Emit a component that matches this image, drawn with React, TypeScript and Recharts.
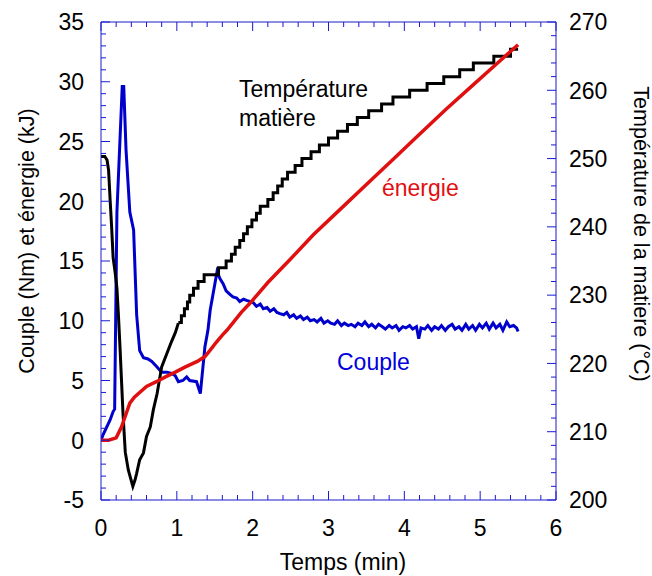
import React from "react"
import { LineChart, Line, XAxis, YAxis } from "recharts"

// Temps (min) / valeurs
const couple: [number, number][] = [
  [0, 0], [0.03, 0.5], [0.06, 0.9], [0.12, 1.7], [0.16, 2.4], [0.18, 2.6],
  [0.21, 19.1], [0.28, 29.6], [0.3, 29.6], [0.33, 24.3], [0.38, 19.1], [0.43, 17.6],
  [0.47, 10.5], [0.51, 7.5], [0.56, 6.9], [0.62, 6.8], [0.67, 6.6], [0.73, 6.2],
  [0.8, 5.7], [0.87, 5.7], [0.93, 5.6], [0.98, 5.4], [1.02, 4.9], [1.08, 5.0],
  [1.13, 5.3], [1.17, 5.0], [1.26, 4.9], [1.31, 3.9], [1.37, 7.8], [1.41, 9.2],
  [1.44, 10.9], [1.53, 14.1], [1.57, 13.5], [1.61, 13.1], [1.65, 12.5], [1.7, 12.2],
  [1.74, 12.0], [1.79, 11.9], [1.83, 11.6], [1.88, 11.8], [1.92, 11.7], [1.97, 11.6],
  [2.01, 11.5], [2.05, 11.2], [2.1, 11.4], [2.14, 11.0], [2.19, 11.1], [2.23, 10.8],
  [2.28, 11.0], [2.32, 10.7], [2.36, 10.6], [2.41, 10.5], [2.45, 10.7], [2.49, 10.3],
  [2.54, 10.5], [2.58, 10.2], [2.63, 10.4], [2.67, 10.1], [2.72, 10.3], [2.76, 10.0],
  [2.81, 10.1], [2.85, 9.9], [2.9, 10.2], [2.94, 9.8], [2.99, 10.0], [3.03, 9.8],
  [3.08, 9.7], [3.12, 10.0], [3.17, 9.6], [3.21, 9.8], [3.26, 9.6], [3.3, 9.7],
  [3.35, 9.5], [3.39, 9.8], [3.44, 9.6], [3.48, 9.9], [3.53, 9.5], [3.57, 9.7],
  [3.62, 9.4], [3.66, 9.7], [3.71, 9.5], [3.75, 9.3], [3.8, 9.6], [3.84, 9.4],
  [3.89, 9.6], [3.93, 9.2], [3.98, 9.5], [4.02, 9.4], [4.07, 9.6], [4.11, 9.3],
  [4.16, 9.5], [4.19, 8.5], [4.22, 9.4], [4.27, 9.3], [4.31, 9.6], [4.36, 9.2],
  [4.4, 9.5], [4.45, 9.3], [4.49, 9.6], [4.54, 9.2], [4.58, 9.5], [4.63, 9.7],
  [4.67, 9.3], [4.72, 9.5], [4.76, 9.2], [4.81, 9.7], [4.85, 9.3], [4.9, 9.6],
  [4.94, 9.2], [4.99, 9.7], [5.03, 9.4], [5.08, 9.8], [5.12, 9.3], [5.17, 9.8],
  [5.21, 9.4], [5.26, 9.7], [5.3, 9.2], [5.35, 9.9], [5.39, 9.5], [5.44, 9.6],
  [5.48, 9.4], [5.5, 9.1],
]

const energie: [number, number][] = [
  [0, 0], [0.1, 0], [0.2, 0.2], [0.27, 1.1], [0.33, 2.2], [0.38, 3.1], [0.44, 3.6],
  [0.51, 4.0], [0.6, 4.5], [0.73, 4.9], [0.85, 5.3], [0.98, 5.7], [1.1, 6.1],
  [1.17, 6.3], [1.27, 6.6], [1.37, 7.0], [1.44, 7.55], [1.52, 8.2], [1.6, 8.8],
  [1.66, 9.2], [1.75, 9.9], [1.85, 10.7], [1.97, 11.5], [2.2, 13.2], [2.49, 15.1],
  [2.8, 17.2], [3.15, 19.3], [3.5, 21.4], [3.85, 23.5], [4.2, 25.6], [4.55, 27.7],
  [4.9, 29.7], [5.2, 31.4], [5.5, 33.1],
]

// température matière : chute initiale puis montée par paliers
const tempChute: [number, number][] = [
  [0, 250.3], [0.05, 250.3], [0.08, 249.8], [0.1, 248.3], [0.12, 244.0], [0.14, 240.0],
  [0.16, 235.5], [0.19, 233.0], [0.21, 231.0], [0.23, 227.0], [0.25, 222.5],
  [0.27, 217.6], [0.29, 212.7], [0.32, 207.0], [0.36, 204.4], [0.42, 202.0],
  [0.45, 203.0], [0.47, 203.9], [0.51, 205.9], [0.56, 206.9], [0.6, 209.3],
  [0.65, 210.7], [0.69, 213.2], [0.74, 215.6], [0.8, 219.5], [0.87, 221.5],
  [0.93, 223.2], [0.98, 224.5], [1.02, 225.9],
]

const tempPaliers: [number, number][] = [
  [1.02, 226], [1.06, 227], [1.1, 228], [1.14, 229], [1.17, 230], [1.22, 231],
  [1.28, 232], [1.36, 233], [1.55, 234], [1.65, 235], [1.72, 236], [1.77, 237],
  [1.83, 238], [1.88, 239], [1.93, 240], [1.99, 241], [2.05, 242], [2.1, 243],
  [2.2, 244], [2.27, 245], [2.33, 246], [2.39, 247], [2.46, 248], [2.56, 249],
  [2.65, 250], [2.77, 251], [2.88, 252], [3.0, 253], [3.12, 254], [3.25, 255],
  [3.38, 256], [3.53, 257], [3.7, 258], [3.85, 259], [4.07, 260], [4.3, 261],
  [4.52, 262], [4.73, 263], [4.91, 264], [5.18, 265], [5.4, 266], [5.5, 266],
]

const xLabels = [0, 1, 2, 3, 4, 5, 6]
const leftLabels = [-5, 0, 5, 10, 15, 20, 25, 30, 35]
const rightLabels = [200, 210, 220, 230, 240, 250, 260, 270]

const xTicks = Array.from({ length: 31 }, (_, i) => (i * 2) / 10)
const leftTicks = Array.from({ length: 41 }, (_, i) => i - 5)
const rightTicks = Array.from({ length: 36 }, (_, i) => 200 + i * 2)

const toRows = (pts: [number, number][]) => pts.map(([t, v]) => ({ t, v }))

const AXIS = "#1a1ad0"
const FONT = "'Liberation Sans', Arial, sans-serif"
const isMajorX = (v: number) => xLabels.some((m) => Math.abs(m - v) < 1e-6)

function BottomTick(props: any) {
  const { x, y, payload } = props
  const major = isMajorX(payload.value)
  return (
    <g>
      <line x1={x} x2={x} y1={y} y2={y - (major ? 9 : 5)} stroke={AXIS} strokeWidth={1} />
      {major && (
        <text x={x} y={y + 36} textAnchor="middle" fontSize={23} fontFamily={FONT} fill="#000">
          {Math.round(payload.value)}
        </text>
      )}
    </g>
  )
}

function TopTick(props: any) {
  const { x, y, payload } = props
  const major = isMajorX(payload.value)
  return <line x1={x} x2={x} y1={y} y2={y + (major ? 9 : 5)} stroke={AXIS} strokeWidth={1} />
}

function LeftTick(props: any) {
  const { x, y, payload } = props
  const major = leftLabels.includes(payload.value)
  return (
    <g>
      <line x1={x} x2={x + (major ? 9 : 5)} y1={y} y2={y} stroke={AXIS} strokeWidth={1} />
      {major && (
        <text x={x - 17} y={y} dy="0.36em" textAnchor="end" fontSize={23} fontFamily={FONT} fill="#000">
          {payload.value}
        </text>
      )}
    </g>
  )
}

function RightTick(props: any) {
  const { x, y, payload } = props
  const major = rightLabels.includes(payload.value)
  return (
    <g>
      <line x1={x} x2={x - (major ? 9 : 5)} y1={y} y2={y} stroke={AXIS} strokeWidth={1} />
      {major && (
        <text x={x + 13} y={y} dy="0.36em" textAnchor="start" fontSize={23} fontFamily={FONT} fill="#000">
          {payload.value}
        </text>
      )}
    </g>
  )
}

export default function App() {
  return (
    <div style={{ position: "absolute", left: 0, top: 0, background: "#fff" }}>
      <LineChart width={652} height={576} margin={{ top: 0, right: 0, bottom: 0, left: 0 }}>
        <XAxis
          xAxisId="bottom"
          dataKey="t"
          type="number"
          domain={[0, 6]}
          ticks={xTicks}
          interval={0}
          height={76}
          tickSize={0}
          tickMargin={0}
          tickLine={false}
          axisLine={{ stroke: AXIS }}
          tick={<BottomTick />}
          allowDataOverflow
        />
        <XAxis
          xAxisId="top"
          orientation="top"
          dataKey="t"
          type="number"
          domain={[0, 6]}
          ticks={xTicks}
          interval={0}
          height={22}
          tickSize={0}
          tickMargin={0}
          tickLine={false}
          axisLine={{ stroke: AXIS }}
          tick={<TopTick />}
          allowDataOverflow
        />
        <YAxis
          yAxisId="left"
          type="number"
          domain={[-5, 35]}
          ticks={leftTicks}
          interval={0}
          width={101}
          tickSize={0}
          tickMargin={0}
          tickLine={false}
          axisLine={{ stroke: AXIS }}
          tick={<LeftTick />}
          allowDataOverflow
        />
        <YAxis
          yAxisId="right"
          orientation="right"
          type="number"
          domain={[200, 270]}
          ticks={rightTicks}
          interval={0}
          width={96}
          tickSize={0}
          tickMargin={0}
          tickLine={false}
          axisLine={{ stroke: AXIS }}
          tick={<RightTick />}
          allowDataOverflow
        />

        <Line
          data={toRows(couple)}
          xAxisId="bottom"
          yAxisId="left"
          dataKey="v"
          type="linear"
          stroke="#0000cc"
          strokeWidth={3}
          dot={false}
          isAnimationActive={false}
        />
        <Line
          data={toRows(tempChute)}
          xAxisId="bottom"
          yAxisId="right"
          dataKey="v"
          type="linear"
          stroke="#000"
          strokeWidth={3}
          dot={false}
          isAnimationActive={false}
        />
        <Line
          data={toRows(tempPaliers)}
          xAxisId="bottom"
          yAxisId="right"
          dataKey="v"
          type="stepAfter"
          stroke="#000"
          strokeWidth={3}
          dot={false}
          isAnimationActive={false}
        />
        <Line
          data={toRows(energie)}
          xAxisId="bottom"
          yAxisId="left"
          dataKey="v"
          type="linear"
          stroke="#e01010"
          strokeWidth={3.5}
          dot={false}
          isAnimationActive={false}
        />

        <text x={239} y={97} fontSize={23} fontFamily={FONT} fill="#000">Température</text>
        <text x={239} y={126} fontSize={23} fontFamily={FONT} fill="#000">matière</text>
        <text x={382} y={196} fontSize={23} fontFamily={FONT} fill="#e01010">énergie</text>
        <text x={337} y={370} fontSize={23} fontFamily={FONT} fill="#0000dd">Couple</text>

        <text
          transform="translate(34,241) rotate(-90)"
          textAnchor="middle"
          fontSize={21.5}
          fontFamily={FONT}
          fill="#000"
        >
          Couple (Nm) et énergie (kJ)
        </text>
        <text
          transform="translate(634,234) rotate(90)"
          textAnchor="middle"
          fontSize={21.5}
          fontFamily={FONT}
          fill="#000"
        >
          Température de la matiere (°C)
        </text>
        <text x={343} y={570} textAnchor="middle" fontSize={23} fontFamily={FONT} fill="#000">
          Temps (min)
        </text>
      </LineChart>
    </div>
  )
}
